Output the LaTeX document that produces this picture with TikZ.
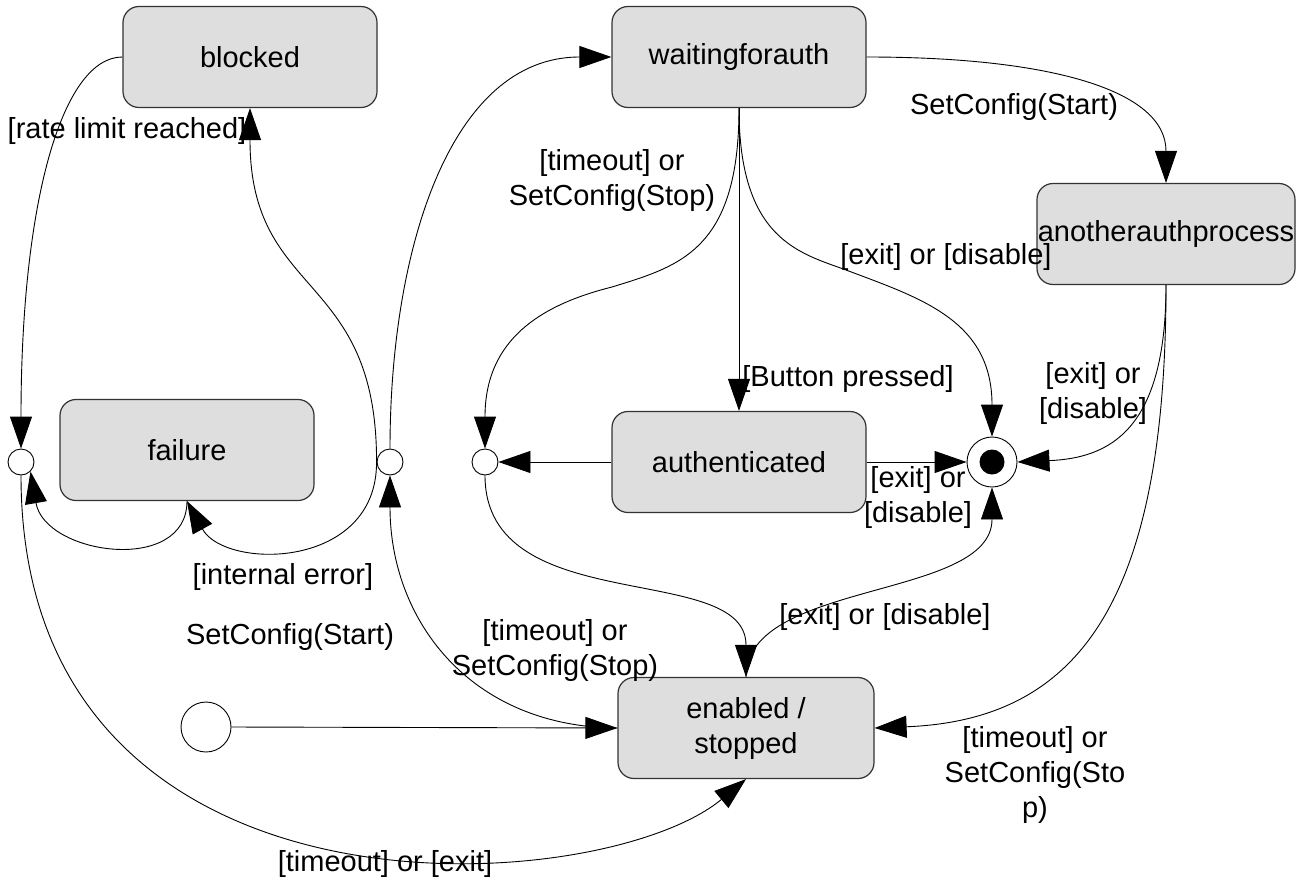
\documentclass[tikz,border=0pt]{standalone}
\usepackage{fontspec}
\setmainfont{Liberation Sans}
\usetikzlibrary{arrows.meta}
\begin{document}
\begin{tikzpicture}[x=1pt,y=-1pt,
  every node/.style={font=\fontsize{29}{35}\selectfont},
  statebox/.style={draw=black!80,line width=1.2pt,fill=black!13,rounded corners=16pt,minimum width=254pt,minimum height=101pt,inner sep=0pt,align=center},
  junc/.style={circle,draw=black,line width=0.9pt,fill=white,minimum size=26pt,inner sep=0pt},
  bigcirc/.style={circle,draw=black,line width=0.9pt,fill=white,minimum size=50pt,inner sep=0pt},
  lbl/.style={align=center,inner sep=0pt},
  tr/.style={draw=black,line width=0.9pt,-{Triangle[length=32pt,width=22pt]}},
]
\fill[white] (0,0) rectangle (1308,881);
\useasboundingbox (0,0) rectangle (1308,881);

% states
\node[statebox] (blocked) at (250,57) {blocked};
\node[statebox] (wait) at (739,57) {waitingforauth};
\node[statebox,minimum width=258pt] (another) at (1166,234) {anotherauthprocess};
\node[statebox] (failure) at (187,450) {failure};
\node[statebox] (auth) at (739,462) {authenticated};
\node[statebox,minimum width=256pt] (enabled) at (746,728) {enabled /\\stopped};

% pseudo states
\node[junc] (J1) at (21,462) {};
\node[junc] (J2) at (390,462) {};
\node[junc] (J3) at (485,462) {};
\node[bigcirc] (init) at (206,727) {};
\node[bigcirc,path picture={\fill[black] (path picture bounding box.center) circle (12.5pt);}] (final) at (992,462) {};

% labels
\node[lbl] (l1) at (127,131) {[rate limit reached]};
\node[lbl] (l2) at (612,180) {[timeout] or\\SetConfig(Stop)};
\node[lbl] (l3) at (946,257) {[exit] or [disable]};
\node[lbl] (l4) at (1014,107) {SetConfig(Start)};
\node[lbl] (l5) at (848,379) {[Button pressed]};
\node[lbl] (l6) at (1093,393) {[exit] or\\{}[disable]};
\node[lbl] (l7) at (918,497) {[exit] or\\{}[disable]};
\node[lbl] (l8) at (283,577) {[internal error]};
\node[lbl] (l9) at (290,637) {SetConfig(Start)};
\node[lbl] (l10) at (555,650) {[timeout] or\\SetConfig(Stop)};
\node[lbl] (l11) at (885,617) {[exit] or [disable]};
\node[lbl] (l12) at (1035,775) {[timeout] or\\SetConfig(Sto\\p)};
\node[lbl] (l13) at (385,864) {[timeout] or [exit]};

% transitions
\draw[tr] (blocked.west) .. controls (63,57) and (21,199) .. (J1.north);
\draw[tr] (J2.west) .. controls (377,270) and (250,300) .. (blocked.south);
\draw[tr] (J2.west) .. controls (377,570) and (225,570) .. (failure.south);
\draw[tr] (failure.south) .. controls (187,575) and (45,555) .. (J1.south east);
\draw[tr] (J2.north) .. controls (390,250) and (450,57) .. (wait.west);
\draw[tr] (wait.south) .. controls (739,250) and (680,266) .. (612,287)
                       .. controls (540,305) and (485,340) .. (J3.north);
\draw[tr] (wait.south) -- (auth.north);
\draw[tr] (wait.south) .. controls (739,240) and (800,253) .. (846,270)
                       .. controls (920,298) and (992,320) .. (final.north);
\draw[tr] (wait.east) .. controls (1050,57) and (1166,90) .. (another.north);
\draw[tr] (another.south) .. controls (1166,430) and (1110,458) .. (final.east);
\draw[tr] (another.south) .. controls (1166,600) and (1080,720) .. (enabled.east);
\draw[tr] (auth.west) -- (J3.east);
\draw[tr] (auth.east) -- (final.west);
\draw[tr] (J3.south) .. controls (485,620) and (746,560) .. (enabled.north);
\draw[tr] (enabled.north) .. controls (746,580) and (992,600) .. (final.south);
\draw[tr] (J1.south) .. controls (21,940) and (600,900) .. (enabled.south);
\draw[tr] (init.east) -- (enabled.west);
\draw[tr] (enabled.west) .. controls (470,727) and (390,620) .. (J2.south);
\end{tikzpicture}
\end{document}
